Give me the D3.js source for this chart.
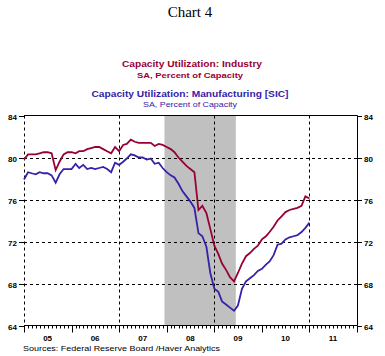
<!DOCTYPE html>
<html><head><meta charset="utf-8">
<script src="https://cdn.jsdelivr.net/npm/d3@7"></script>
<style>body{margin:0;background:#fff}svg{display:block}</style>
</head><body>
<svg id="c" width="385" height="356"></svg>
<script>
// Monthly data, Jan 2005 .. Jan 2011
const startYear = 2005, startMonth = 0;
const industry = [79.8,80.3,80.3,80.3,80.4,80.5,80.5,80.4,78.8,79.6,80.3,80.5,
  80.5,80.4,80.6,80.6,80.8,80.9,81.0,81.0,80.8,80.6,80.4,81.0,
  80.6,81.2,81.3,81.7,81.5,81.4,81.4,81.4,81.4,81.1,81.3,81.2,
  81.0,80.8,80.5,80.0,79.6,79.2,78.9,78.6,75.0,75.4,74.7,73.2,
  71.6,70.8,69.9,69.3,68.6,68.2,69.0,69.9,70.6,70.9,71.3,71.6,
  72.2,72.5,72.9,73.4,74.0,74.4,74.8,75.0,75.1,75.2,75.4,76.3,76.1];
const manufacturing = [77.9,78.6,78.5,78.4,78.6,78.5,78.5,78.3,77.6,78.4,78.9,78.9,
  78.9,79.4,79.0,79.3,78.9,79.0,78.9,79.0,79.1,78.9,78.6,79.5,
  79.3,79.6,79.9,80.3,80.2,80.0,80.0,79.8,79.9,79.4,79.5,79.0,
  78.6,78.3,78.1,77.5,76.8,76.3,75.8,75.2,72.8,72.5,71.5,69.0,
  67.5,67.2,66.3,66.0,65.7,65.4,65.9,67.5,68.2,68.5,68.8,69.2,
  69.4,69.8,70.1,70.7,71.7,71.8,72.2,72.4,72.5,72.6,72.9,73.3,73.8];
const yTicks = [64,68,72,76,80,84];
const yearLabels = ["05","06","07","08","09","10","11"];
const gridYears = [2007,2009,2011];
const recession = ["2007-12-15","2009-06-15"];

const svg = d3.select("#c");
const L=24, R=357, T=115.5, B=325.5;
const x = d3.scaleTime().domain([new Date(2005,0,1), new Date(2012,0,1)]).range([L,R]);
const y = d3.scaleLinear().domain([64,84]).range([B,T]);
const dateOf = i => new Date(startYear, startMonth+i, 1);

const F = "'Liberation Sans', Arial, sans-serif";
const RED = "#990033", BLUE = "#3322aa";

// recession shading
svg.append("rect").attr("x", x(new Date(recession[0]))).attr("y", T)
  .attr("width", x(new Date(recession[1])) - x(new Date(recession[0])))
  .attr("height", B-T).attr("fill", "#c0c0c0");

// horizontal gridlines
svg.selectAll(".hg").data(yTicks.filter(d=>d>64 && d<84)).enter().append("line")
  .attr("x1",L).attr("x2",R).attr("y1",d=>Math.round(y(d))+0.5).attr("y2",d=>Math.round(y(d))+0.5)
  .attr("stroke","#000").attr("stroke-dasharray","3,3");
// vertical gridlines
svg.selectAll(".vg").data([2005].concat(gridYears)).enter().append("line")
  .attr("x1",d=>Math.round(x(new Date(d,0,1)))+0.5).attr("x2",d=>Math.round(x(new Date(d,0,1)))+0.5)
  .attr("y1",T).attr("y2",B).attr("stroke","#000").attr("stroke-dasharray","3,3");

// frame: top, right, bottom
svg.append("line").attr("x1",L).attr("x2",R+0.5).attr("y1",T).attr("y2",T).attr("stroke","#000");
svg.append("line").attr("x1",R+0.5).attr("x2",R+0.5).attr("y1",T).attr("y2",B).attr("stroke","#000");
svg.append("line").attr("x1",L).attr("x2",R+0.5).attr("y1",B).attr("y2",B).attr("stroke","#000");

// y axes ticks + labels
yTicks.forEach(v=>{
  const yy = Math.round(y(v))+0.5;
  svg.append("line").attr("x1",L-5).attr("x2",L).attr("y1",yy).attr("y2",yy).attr("stroke","#000");
  svg.append("line").attr("x1",R).attr("x2",R+5).attr("y1",yy).attr("y2",yy).attr("stroke","#000");
  svg.append("text").attr("x",L-7).attr("y",yy+3).attr("text-anchor","end")
    .attr("font-family",F).attr("font-weight","bold").attr("font-size",8).text(v);
  svg.append("text").attr("x",R+7).attr("y",yy+3).attr("text-anchor","start")
    .attr("font-family",F).attr("font-weight","bold").attr("font-size",8).text(v);
});

// x axis ticks
const months = d3.timeMonth.range(new Date(2005,0,1), new Date(2012,0,2));
months.forEach(d=>{
  const xx = Math.round(x(d))+0.5;
  const major = d.getMonth()===0;
  svg.append("line").attr("x1",xx).attr("x2",xx).attr("y1",B).attr("y2",B+(major?7:3)).attr("stroke","#000");
});
yearLabels.forEach((lab,i)=>{
  const xm = x(new Date(2005+i,6,1));
  svg.append("text").attr("x",xm).attr("y",341).attr("text-anchor","middle")
    .attr("font-family",F).attr("font-weight","bold").attr("font-size",8).text(lab);
});

// lines
const line = d3.line().x((d,i)=>x(dateOf(i))).y(d=>y(d));
svg.append("path").datum(manufacturing).attr("d",line).attr("fill","none").attr("stroke",BLUE).attr("stroke-width",1.8);
svg.append("path").datum(industry).attr("d",line).attr("fill","none").attr("stroke",RED).attr("stroke-width",1.8);

// titles
function txt(s, xx, yy, size, weight, color, w, fam){
  svg.append("text").attr("x",xx).attr("y",yy).attr("text-anchor","middle")
    .attr("font-family",fam||F).attr("font-weight",weight).attr("font-size",size)
    .attr("fill",color).attr("textLength",w).attr("lengthAdjust","spacingAndGlyphs").text(s);
}
svg.append("text").attr("x",190).attr("y",17).attr("text-anchor","middle")
  .attr("font-family","'Liberation Serif', 'Times New Roman', serif").attr("font-size",15).attr("fill","#000").text("Chart 4");
txt("Capacity Utilization: Industry",192,66.5,9,"bold",RED,140);
txt("SA, Percent of Capacity",190,78,8,"bold",RED,106);
txt("Capacity Utilization: Manufacturing [SIC]",190,97,9,"bold",BLUE,197);
txt("SA, Percent of Capacity",190,107,8,"normal",BLUE,94);
svg.append("text").attr("x",23).attr("y",351).attr("font-family",F).attr("font-size",8)
  .attr("textLength",197).attr("lengthAdjust","spacingAndGlyphs").text("Sources:  Federal Reserve Board /Haver Analytics");
</script>
</body></html>
